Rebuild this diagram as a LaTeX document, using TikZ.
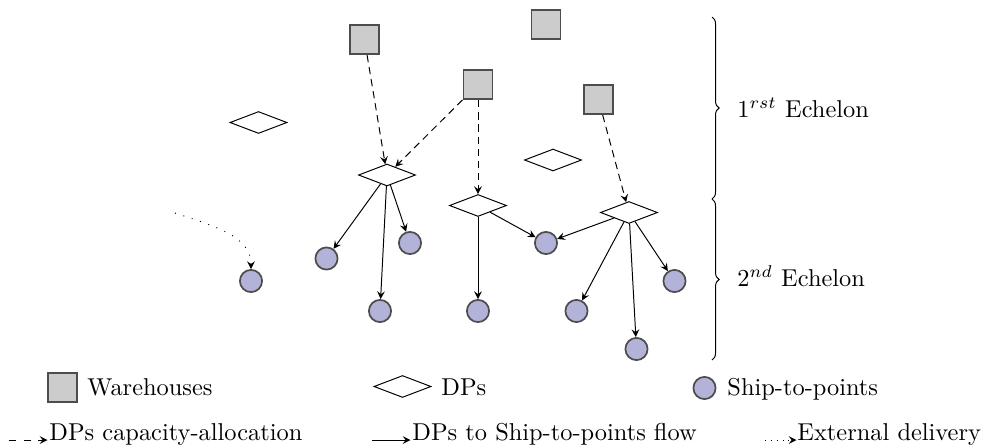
\documentclass[tikz,border=0pt]{standalone}
\usetikzlibrary{shapes.geometric,decorations.pathreplacing,arrows}
\definecolor{wfill}{RGB}{204,204,204}
\definecolor{bord}{RGB}{77,77,77}
\definecolor{sfill}{RGB}{179,179,217}
\begin{document}
\begin{tikzpicture}[x=0.41pt,y=-0.41pt,>=stealth,
  wh/.style={draw=bord,fill=wfill,line width=0.7pt,minimum size=12pt,inner sep=0pt},
  dp/.style={draw,diamond,minimum width=23.4pt,minimum height=9pt,inner sep=0pt,line width=0.4pt},
  stp/.style={circle,draw=bord,fill=sfill,line width=0.7pt,minimum size=9.1pt,inner sep=0pt},
  alloc/.style={->,densely dashed},
  flow/.style={->},
  extd/.style={->,dash pattern=on 0.4pt off 3.2pt},
  lab/.style={anchor=base west,inner sep=0pt}]
\path[use as bounding box] (0,0) rectangle (984,447);

% warehouses
\node[wh] (W1) at (364.5,39.5) {};
\node[wh] (W2) at (546,24.5) {};
\node[wh] (W3) at (478,84.5) {};
\node[wh] (W4) at (598.5,99.5) {};

% DPs
\node[dp] (Da) at (258.5,122.5) {};
\node[dp] (D1) at (387,175) {};
\node[dp] (D2) at (553,160) {};
\node[dp] (D3) at (478,205.5) {};
\node[dp] (D4) at (629,212.5) {};

% ship-to-points
\node[stp] (Cx) at (251,281) {};
\node[stp] (C1) at (326.5,258.5) {};
\node[stp] (C2) at (410,243) {};
\node[stp] (C3) at (380,311) {};
\node[stp] (C4) at (478,311) {};
\node[stp] (C5) at (546,243) {};
\node[stp] (C6) at (576.5,311) {};
\node[stp] (C7) at (674.5,281) {};
\node[stp] (C8) at (636.5,349) {};

% capacity allocation
\draw[alloc] (W1) -- (D1);
\draw[alloc] (W3) -- (D1);
\draw[alloc] (W3) -- (D3);
\draw[alloc] (W4) -- (D4);

% flows
\draw[flow] (D1) -- (C1);
\draw[flow] (D1) -- (C3);
\draw[flow] (D1) -- (C2);
\draw[flow] (D3) -- (C4);
\draw[flow] (D3) -- (C5);
\draw[flow] (D4) -- (C5);
\draw[flow] (D4) -- (C6);
\draw[flow] (D4) -- (C8);
\draw[flow] (D4) -- (C7);

% external delivery
\coordinate (ex) at (175,213);
\draw[extd] (ex) .. controls (214,226) and (251,236) .. (Cx);

% braces
\coordinate (b1) at (712,17);
\coordinate (b2) at (712,199);
\coordinate (b3) at (712,360);
\draw[decorate,decoration={brace,amplitude=2.9pt}] (b1) -- (b2);
\draw[decorate,decoration={brace,amplitude=2.9pt}] (b2) -- (b3);
\node[lab] (E1) at (737,117) {$1^{rst}$ Echelon};
\node[lab] (E2) at (737,286) {$2^{nd}$ Echelon};

% legend row 1
\node[wh] (LW) at (62.5,387.5) {};
\node[lab] (LWt) at (87,395) {Warehouses};
\node[dp] (LD) at (402.5,386.5) {};
\node[lab] (LDt) at (441,395) {DPs};
\node[stp] (LS) at (704.5,388) {};
\node[lab] (LSt) at (727,395) {Ship-to-points};

% legend row 2
\coordinate (a0) at (9,440);
\coordinate (a1) at (47.5,440);
\draw[->,dashed] (a0) -- (a1);
\node[lab] (At) at (49,440) {DPs capacity-allocation};
\coordinate (f0) at (372,440);
\coordinate (f1) at (410.5,440);
\draw[->] (f0) -- (f1);
\node[lab] (Ft) at (412,440) {DPs to Ship-to-points flow};
\coordinate (x0) at (765,440);
\coordinate (x1) at (796.5,440);
\draw[->,dotted] (x0) -- (x1);
\node[lab] (Xt) at (797,440) {External delivery};
\end{tikzpicture}
\end{document}
